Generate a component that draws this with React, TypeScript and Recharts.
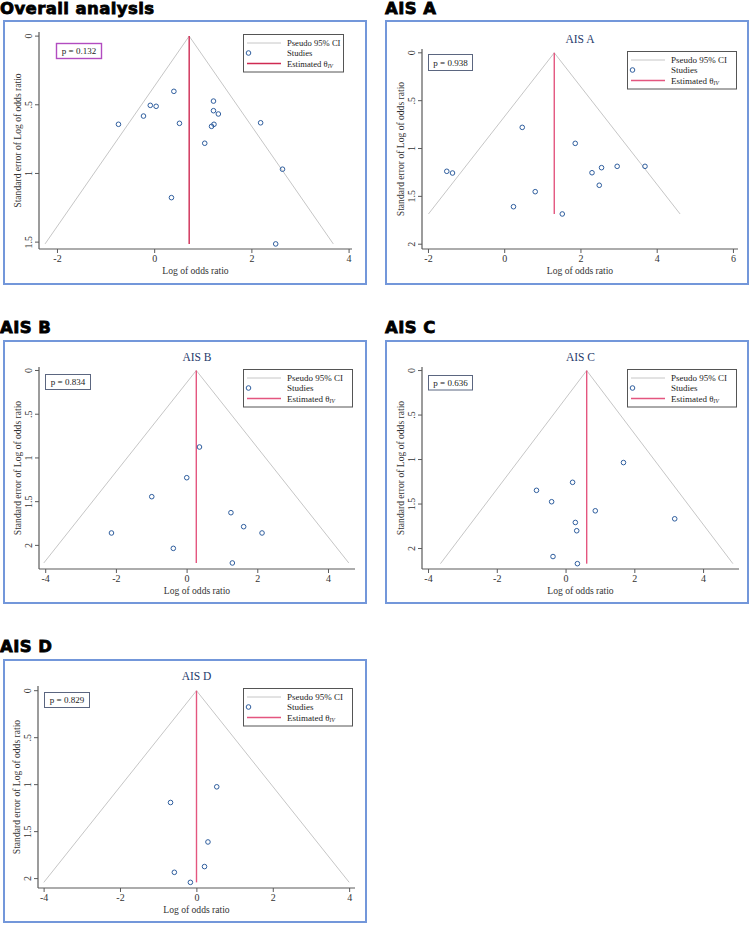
import React from 'react';
import { ScatterChart, Scatter, XAxis, YAxis, ReferenceLine } from 'recharts';

const SERIF = '"Liberation Serif", "Times New Roman", serif';
const HEAD = '"DejaVu Sans", Arial, sans-serif';

// log odds ratio (x) and its standard error (y) for every study, per panel
const overallLogOR = [-0.745, -0.23, -0.09, 0.03, 0.395, 0.51, 0.345, 1.03, 1.21, 1.21, 1.31, 1.22, 1.17, 2.18, 2.63, 2.49];
const overallSE = [0.642, 0.582, 0.504, 0.511, 0.402, 0.635, 1.176, 0.78, 0.473, 0.543, 0.567, 0.642, 0.657, 0.631, 0.969, 1.513];

const aisALogOR = [-1.52, -1.37, 0.46, 0.23, 0.8, 1.51, 1.85, 2.29, 2.54, 2.48, 2.95, 3.68];
const aisASE = [1.238, 1.256, 0.779, 1.608, 1.451, 1.684, 0.946, 1.253, 1.2, 1.384, 1.186, 1.186];

const aisBLogOR = [0.35, -0.01, -1.0, -2.14, -0.39, 1.24, 1.6, 2.12, 1.28];
const aisBSE = [0.875, 1.226, 1.443, 1.858, 2.034, 1.626, 1.786, 1.858, 2.201];

const aisCLogOR = [1.67, 0.19, -0.86, -0.42, 0.85, 3.16, 0.27, 0.31, -0.38, 0.33];
const aisCSE = [1.034, 1.256, 1.346, 1.474, 1.576, 1.666, 1.707, 1.8, 2.09, 2.17];

const aisDLogOR = [0.52, -0.69, 0.29, 0.2, -0.59, -0.17];
const aisDSE = [1.023, 1.19, 1.61, 1.872, 1.933, 2.04];

const thetaIV = [0.71, 1.3, 0.26, 0.6, -0.01];
const pValues = ['0.132', '0.938', '0.834', '0.636', '0.829'];
const panelNames = ['Overall analysis', 'AIS A', 'AIS B', 'AIS C', 'AIS D'];
const plotTitles = ['', 'AIS A', 'AIS B', 'AIS C', 'AIS D'];

const xTicks = [[-2, 0, 2, 4], [-2, 0, 2, 4, 6], [-4, -2, 0, 2, 4], [-4, -2, 0, 2, 4], [-4, -2, 0, 2, 4]];
const yTicks = [[0, 0.5, 1, 1.5], [0, 0.5, 1, 1.5, 2], [0, 0.5, 1, 1.5, 2], [0, 0.5, 1, 1.5, 2], [0, 0.5, 1, 1.5, 2]];
const xDomains = [[-2.38, 4.06], [-2.17, 6.12], [-4.19, 4.75], [-4.19, 5.03], [-4.16, 4.14]];
const yDomains = [[-0.03, 1.55], [-0.04, 2.05], [-0.04, 2.27], [-0.04, 2.23], [-0.05, 2.1]];

const studyX = [overallLogOR, aisALogOR, aisBLogOR, aisCLogOR, aisDLogOR];
const studyY = [overallSE, aisASE, aisBSE, aisCSE, aisDSE];

// page layout: box [left, top, w, h], plot [x0, y0, x1, y1], heading [left, top], legend [left, top, w], pbox [left, top, w, h]
const layout = [
  { box: [3, 20, 364, 265], plot: [39, 32, 352, 249], head: [0, 0], legend: [243, 34, 100], pbox: [56, 43, 45, 15] },
  { box: [385, 20, 364, 265], plot: [422, 49, 738, 249], head: [385, 0], legend: [627, 51, 109], pbox: [428, 54, 44, 16] },
  { box: [3, 340, 364, 264], plot: [39, 367, 355, 569], head: [0, 319], legend: [243, 369, 109], pbox: [45, 374, 45, 15] },
  { box: [385, 340, 364, 264], plot: [422, 367, 739, 569], head: [385, 319], legend: [627, 369, 109], pbox: [428, 375, 44, 14.5] },
  { box: [3, 659, 364, 264], plot: [38, 686, 355, 888], head: [0, 638], legend: [243, 688, 109], pbox: [44, 692, 45, 15] }
];

const redColors = ['#cf2a52', '#e4567f', '#e4567f', '#e4567f', '#e4567f'];
const studyColor = '#2f5e9e';
const funnelColor = '#c6c6c6';
const axisColor = '#5a5a5a';

const fmtY = (v: number) => (v === 0 ? '0' : String(v).replace(/^0\./, '.'));

function YTick(props: any) {
  const { x, y, payload } = props;
  const tx = x - 1;
  return (
    <text x={tx} y={y} transform={`rotate(-90 ${tx} ${y})`} textAnchor="middle" fontSize={10} fontFamily={SERIF} fill="#333">
      {fmtY(payload.value)}
    </text>
  );
}

function StudyDot(props: any) {
  const { cx, cy } = props;
  if (cx == null || cy == null) return null;
  return <circle cx={cx} cy={cy} r={2.3} fill="none" stroke={studyColor} strokeWidth={1} />;
}

function FunnelPanel({ i }: { i: number }) {
  const L = layout[i];
  const [bx, by, bw, bh] = L.box;
  const [px0, py0, px1, py1] = L.plot;
  const yAxisW = 30;
  const xAxisH = 32;
  const margin = { left: px0 - bx - yAxisW, top: py0 - by, right: bx + bw - px1, bottom: by + bh - py1 - xAxisH };
  const data = studyX[i].map((x, k) => ({ x, y: studyY[i][k] }));
  const theta = thetaIV[i];
  const seMax = Math.max(...studyY[i]);
  const half = 1.96 * seMax;

  return (
    <div style={{ position: 'absolute', left: bx, top: by }}>
      <ScatterChart width={bw} height={bh} margin={margin}>
        <XAxis
          type="number"
          dataKey="x"
          domain={xDomains[i]}
          ticks={xTicks[i]}
          allowDataOverflow
          height={xAxisH}
          tickSize={4}
          axisLine={{ stroke: axisColor, strokeWidth: 1.2 }}
          tickLine={{ stroke: axisColor }}
          tick={{ fontSize: 10, fontFamily: SERIF, fill: '#333' }}
          label={(p: any) => {
            const vb = p.viewBox || {};
            return (
              <text x={vb.x + vb.width / 2} y={vb.y + 24.5} textAnchor="middle" fontSize={9.6} fontFamily={SERIF} fill="#333">
                Log of odds ratio
              </text>
            );
          }}
        />
        <YAxis
          type="number"
          dataKey="y"
          domain={yDomains[i]}
          ticks={yTicks[i]}
          reversed
          allowDataOverflow
          width={yAxisW}
          tickSize={4}
          axisLine={{ stroke: axisColor, strokeWidth: 1.2 }}
          tickLine={{ stroke: axisColor }}
          tick={<YTick />}
          label={(p: any) => {
            const vb = p.viewBox || {};
            const tx = vb.x + vb.width - 18;
            const ty = vb.y + vb.height / 2;
            return (
              <text x={tx} y={ty} transform={`rotate(-90 ${tx} ${ty})`} textAnchor="middle" fontSize={9.6} fontFamily={SERIF} fill="#333">
                Standard error of Log of odds ratio
              </text>
            );
          }}
        />
        <ReferenceLine segment={[{ x: theta, y: 0 }, { x: theta - half, y: seMax }]} stroke={funnelColor} strokeWidth={1} ifOverflow="visible" />
        <ReferenceLine segment={[{ x: theta, y: 0 }, { x: theta + half, y: seMax }]} stroke={funnelColor} strokeWidth={1} ifOverflow="visible" />
        <ReferenceLine segment={[{ x: theta, y: 0 }, { x: theta, y: seMax }]} stroke={redColors[i]} strokeWidth={1.4} ifOverflow="visible" />
        <Scatter data={data} shape={<StudyDot />} isAnimationActive={false} />
      </ScatterChart>
    </div>
  );
}

function LegendBox({ i }: { i: number }) {
  const [x, y, w] = layout[i].legend;
  const fs = w > 100 ? 9 : 8.6;
  return (
    <g>
      <rect x={x + 0.5} y={y + 0.5} width={w} height={37.5} fill="#fff" stroke="#555" strokeWidth={1} />
      <line x1={x + 4} x2={x + 38} y1={y + 9} y2={y + 9} stroke={funnelColor} strokeWidth={1} />
      <circle cx={x + 5.5} cy={y + 19} r={2.3} fill="none" stroke={studyColor} strokeWidth={1} />
      <line x1={x + 4} x2={x + 38} y1={y + 29.5} y2={y + 29.5} stroke={redColors[i]} strokeWidth={1.4} />
      <text x={x + 44} y={y + 12} fontSize={fs} fontFamily={SERIF} fill="#222">Pseudo 95% CI</text>
      <text x={x + 44} y={y + 22.3} fontSize={fs} fontFamily={SERIF} fill="#222">Studies</text>
      <text x={x + 44} y={y + 32.6} fontSize={fs} fontFamily={SERIF} fill="#222">
        Estimated θ<tspan fontSize={5.5} dy={1.8} fontStyle="italic">IV</tspan>
      </text>
    </g>
  );
}

function PBox({ i }: { i: number }) {
  const [x, y, w, h] = layout[i].pbox;
  const purple = i === 0;
  return (
    <g>
      <rect x={x + 0.5} y={y + 0.5} width={w} height={h} fill="#fff" stroke={purple ? '#b24cc0' : '#5b6680'} strokeWidth={purple ? 1.4 : 1} />
      <text x={x + w / 2 + 0.5} y={y + h / 2 + 3.6} textAnchor="middle" fontSize={9} fontFamily={SERIF} fill="#222">
        p = {pValues[i]}
      </text>
    </g>
  );
}

export default function App() {
  return (
    <div style={{ position: 'absolute', left: 0, top: 0, width: 750, height: 925, background: '#fff', overflow: 'hidden' }}>
      {layout.map((L, i) => (
        <React.Fragment key={i}>
          <div
            style={{
              position: 'absolute',
              left: L.head[0],
              top: L.head[1],
              fontFamily: HEAD,
              fontWeight: 'bold',
              fontSize: 16.5,
              lineHeight: '17px',
              letterSpacing: 0.4,
              color: '#000',
              WebkitTextStroke: '0.8px #000',
              whiteSpace: 'nowrap'
            }}
          >
            {panelNames[i]}
          </div>
          <div
            style={{
              position: 'absolute',
              left: L.box[0],
              top: L.box[1],
              width: L.box[2],
              height: L.box[3],
              border: '2px solid #7397da',
              boxSizing: 'border-box'
            }}
          />
          <FunnelPanel i={i} />
        </React.Fragment>
      ))}
      <svg width={750} height={925} style={{ position: 'absolute', left: 0, top: 0, pointerEvents: 'none' }}>
        {layout.map((L, i) => (
          <g key={i}>
            {plotTitles[i] ? (
              <text x={(L.plot[0] + L.plot[2]) / 2} y={L.plot[1] - 6.5} textAnchor="middle" fontSize={11.5} fontFamily={SERIF} fill="#263a6b">
                {plotTitles[i]}
              </text>
            ) : null}
            <PBox i={i} />
            <LegendBox i={i} />
          </g>
        ))}
      </svg>
    </div>
  );
}
